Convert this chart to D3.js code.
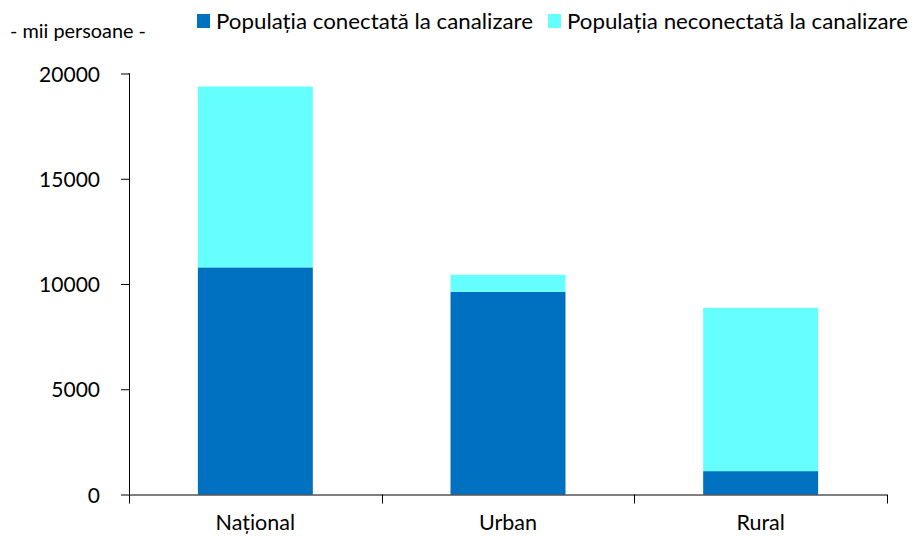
<!DOCTYPE html>
<html><head><meta charset="utf-8">
<script src="https://cdn.jsdelivr.net/npm/d3@7"></script>
<style>body{margin:0;background:#fff}svg{display:block}text{font-family:Lato,"Open Sans",sans-serif;fill:#000}</style>
</head><body><svg id="c" width="913" height="536"></svg>
<script>
const categories = ["Național", "Urban", "Rural"];
const seriesNames = ["Populația conectată la canalizare", "Populația neconectată la canalizare"];
const connected = [10790, 9630, 1110];
const notConnected = [8590, 810, 7760];
const yTicks = [0, 5000, 10000, 15000, 20000];
const unitLabel = "- mii persoane -";
const colors = ["#0070C0", "#66FFFF"];

const svg = d3.select("#c");
const m = {left:129, right:26, top:74, bottom:42};
const W = 913, H = 536;
const x = d3.scaleBand().domain(categories).range([m.left, W - m.right]).paddingInner(0.545).paddingOuter(0.2725);
const y = d3.scaleLinear().domain([0, 20000]).range([494.5, 73.5]);

const data = categories.map((c, i) => ({cat: c, connected: connected[i], notConnected: notConnected[i]}));
const stack = d3.stack().keys(["connected", "notConnected"])(data);

svg.append("g").selectAll("g").data(stack).join("g").attr("fill", (d, i) => colors[i])
  .selectAll("rect").data(d => d).join("rect")
  .attr("x", d => x(d.data.cat)).attr("width", x.bandwidth())
  .attr("y", d => y(d[1])).attr("height", d => y(d[0]) - y(d[1]));

// y axis
const ya = svg.append("g").attr("transform", `translate(${m.left},0)`)
  .call(d3.axisLeft(y).tickValues(yTicks).tickSize(8).tickPadding(21).tickFormat(d3.format("d")));
ya.select(".domain").attr("d", `M-0.5,${y(20000)}H0.5V${y(0)}`);
ya.selectAll("text").style("font-size", "21px").style("font-family", "Lato,sans-serif").attr("dy", "0.36em");

// x axis
const xa = svg.append("g").attr("transform", `translate(0,${y(0)})`)
  .call(d3.axisBottom(x).tickSize(0).tickPadding(0));
xa.select(".domain").remove();
xa.append("path").attr("d", `M${m.left},0.5H${W - m.right}`).attr("stroke", "#000");
const edges = [m.left].concat(categories.map(c => x(c) + x.bandwidth() / 2 + x.step() / 2));
xa.selectAll(".sep").data(edges).join("line").attr("class", "sep")
  .attr("x1", d => Math.round(d) + 0.5).attr("x2", d => Math.round(d) + 0.5).attr("y1", 0).attr("y2", 9).attr("stroke", "#000");
xa.selectAll(".tick text").style("font-size", "21.5px").style("font-family", "Lato,sans-serif").attr("y", 35.5).attr("dy", null);
svg.selectAll(".tick line").attr("stroke", "#000");

// unit label
svg.append("text").attr("x", 10).attr("y", 38).style("font-size", "19.5px").attr("textLength", 136).attr("lengthAdjust", "spacingAndGlyphs").text(unitLabel);

// legend
const legX = [197, 548];
const legW = [317, 341];
const lg = svg.append("g");
seriesNames.forEach((s, i) => {
  lg.append("rect").attr("x", legX[i]).attr("y", 14).attr("width", 13).attr("height", 14).attr("fill", colors[i]);
  lg.append("text").attr("x", legX[i] + 19).attr("y", 29).style("font-size", "21.5px")
    .attr("textLength", legW[i]).attr("lengthAdjust", "spacingAndGlyphs").text(s);
});
</script></body></html>
